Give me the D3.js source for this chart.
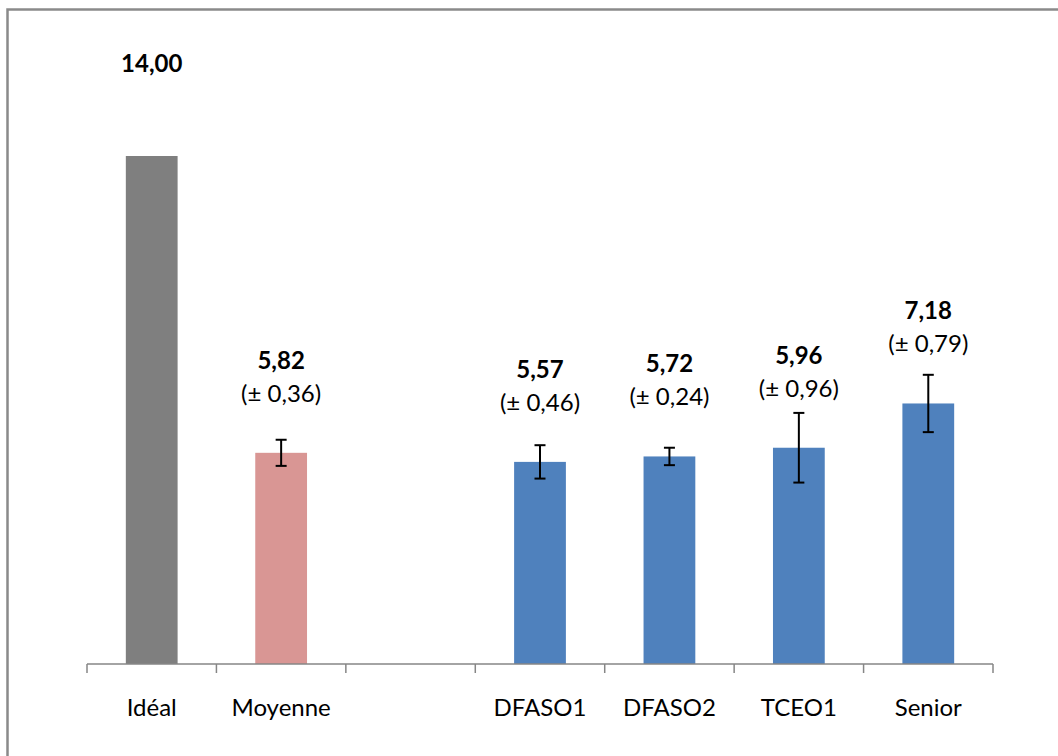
<!DOCTYPE html>
<html>
<head>
<meta charset="utf-8">
<script src="https://cdn.jsdelivr.net/npm/d3@7"></script>
<style>
  body { margin: 0; background: #fff; }
  svg { display: block; font-family: Lato, "Open Sans", sans-serif; }
</style>
</head>
<body>
<div class="graph"></div>
<script>
// data
const categories = ["Idéal", "Moyenne", "", "DFASO1", "DFASO2", "TCEO1", "Senior"];
const values = [14.0, 5.82, null, 5.57, 5.72, 5.96, 7.18];
const errors = [null, 0.36, null, 0.46, 0.24, 0.96, 0.79];
const barColors = ["#7f7f7f", "#d99694", null, "#4f81bd", "#4f81bd", "#4f81bd", "#4f81bd"];

const width = 1058;
const height = 756;

const fr = d3.formatLocale({ decimal: ",", thousands: " ", grouping: [3], currency: ["", " €"] });
const fmt = fr.format(".2f");

const svg = d3
  .select(".graph")
  .append("svg")
  .attr("width", width)
  .attr("height", height)
  .attr("viewBox", [0, 0, width, height]);

// chart frame (only left and top edges are visible in the crop)
svg
  .append("rect")
  .attr("x", 7.5)
  .attr("y", 9.5)
  .attr("width", 2000)
  .attr("height", 2000)
  .attr("fill", "none")
  .attr("stroke", "#8a8a8a")
  .attr("stroke-width", 2.5);

const x = d3
  .scaleBand()
  .domain(d3.range(categories.length))
  .range([87, 993])
  .paddingInner(0.6)
  .paddingOuter(0.3);

const y = d3.scaleLinear().domain([0, 14]).range([664, 156]);

const data = categories.map((c, i) => ({
  i,
  name: c,
  value: values[i],
  err: errors[i],
  color: barColors[i],
})).filter((d) => d.value != null);

// bars
svg
  .append("g")
  .selectAll()
  .data(data)
  .join("rect")
  .attr("x", (d) => x(d.i))
  .attr("y", (d) => y(d.value))
  .attr("width", x.bandwidth())
  .attr("height", (d) => y(0) - y(d.value))
  .attr("fill", (d) => d.color);

// x axis: ticks sit on category boundaries
const step = x.step();
const axisG = svg.append("g").attr("stroke", "#868686").attr("stroke-width", 1.5);
axisG
  .append("line")
  .attr("x1", x.range()[0])
  .attr("x2", x.range()[1])
  .attr("y1", y(0))
  .attr("y2", y(0));
axisG
  .selectAll("line.tick")
  .data(d3.range(categories.length + 1))
  .join("line")
  .attr("class", "tick")
  .attr("x1", (k) => x.range()[0] + k * step)
  .attr("x2", (k) => x.range()[0] + k * step)
  .attr("y1", y(0))
  .attr("y2", y(0) + 9);

svg
  .append("g")
  .selectAll()
  .data(categories.map((c, i) => ({ c, i })))
  .join("text")
  .attr("x", (d) => x(d.i) + x.bandwidth() / 2)
  .attr("y", 716)
  .attr("text-anchor", "middle")
  .attr("font-size", 24)
  .attr("fill", "#000")
  .text((d) => d.c);

// error bars
const errG = svg
  .append("g")
  .attr("stroke", "#000")
  .attr("stroke-width", 2)
  .selectAll()
  .data(data.filter((d) => d.err != null))
  .join("g");
errG
  .append("line")
  .attr("x1", (d) => x(d.i) + x.bandwidth() / 2)
  .attr("x2", (d) => x(d.i) + x.bandwidth() / 2)
  .attr("y1", (d) => y(d.value + d.err))
  .attr("y2", (d) => y(d.value - d.err));
errG
  .selectAll("line.cap")
  .data((d) => [
    { d, v: d.value + d.err },
    { d, v: d.value - d.err },
  ])
  .join("line")
  .attr("class", "cap")
  .attr("x1", (c) => x(c.d.i) + x.bandwidth() / 2 - 5.5)
  .attr("x2", (c) => x(c.d.i) + x.bandwidth() / 2 + 5.5)
  .attr("y1", (c) => y(c.v))
  .attr("y2", (c) => y(c.v));

// value labels
const labels = svg
  .append("g")
  .attr("text-anchor", "middle")
  .attr("font-size", 24)
  .attr("fill", "#000")
  .selectAll()
  .data(data)
  .join("g");
labels
  .append("text")
  .attr("x", (d) => x(d.i) + x.bandwidth() / 2)
  .attr("y", (d) => y(d.value) - 84)
  .attr("font-weight", "bold")
  .text((d) => fmt(d.value));
labels
  .filter((d) => d.err != null)
  .append("text")
  .attr("x", (d) => x(d.i) + x.bandwidth() / 2)
  .attr("y", (d) => y(d.value) - 51)
  .text((d) => `(± ${fmt(d.err)})`);
</script>
</body>
</html>
